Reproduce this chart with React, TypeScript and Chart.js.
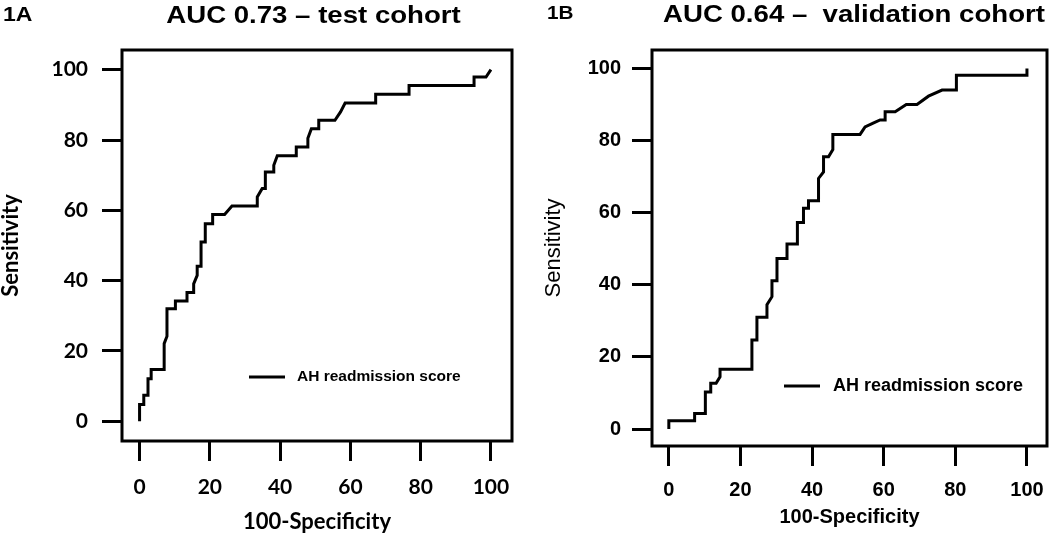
import React, { useEffect, useRef } from 'react';
import { Chart, registerables } from 'chart.js';

Chart.register(...registerables);

// ---------- data ----------
const xTickValues = [0, 20, 40, 60, 80, 100];
const yTickValues = [0, 20, 40, 60, 80, 100];

const panelLabelTest = '1A';
const panelLabelVal = '1B';
const titleTest = 'AUC 0.73 – test cohort';
const titleVal = 'AUC 0.64 –  validation cohort';
const legendLabel = 'AH readmission score';
const xAxisTitle = '100-Specificity';
const yAxisTitle = 'Sensitivity';

// test cohort ROC (100-specificity, sensitivity)
const fprTest = [0, 0, 1.2, 1.2, 2.4, 2.4, 3.3, 3.3, 7.0, 7.0, 7.8, 7.8, 10.2, 10.2, 13.5, 13.5, 15.4, 15.4, 16.4, 16.4, 17.5, 17.5, 18.7, 18.7, 20.8, 20.8, 24.2, 26.3, 33.5, 33.5, 34.9, 35.8, 35.8, 38.2, 38.2, 39.2, 44.6, 44.6, 47.9, 47.9, 48.9, 51.0, 51.0, 55.6, 57.2, 58.5, 67.2, 67.2, 76.7, 76.7, 95.2, 95.2, 98.6, 100];
const tprTest = [0, 4.8, 4.8, 7.4, 7.4, 12.1, 12.1, 14.7, 14.7, 22.1, 24.2, 32.0, 32.0, 34.2, 34.2, 36.6, 36.6, 39.1, 41.5, 44.1, 44.1, 51.0, 51.0, 56.2, 56.2, 58.8, 58.8, 61.2, 61.2, 63.8, 66.2, 66.2, 70.9, 70.9, 72.8, 75.5, 75.5, 78.0, 78.0, 80.5, 83.2, 83.2, 85.6, 85.6, 88.0, 90.5, 90.5, 93.0, 93.0, 95.5, 95.5, 97.9, 97.9, 100];

// validation cohort ROC
const fprVal = [0, 0, 7.2, 7.2, 10.2, 10.2, 11.7, 11.7, 13.2, 14.3, 14.3, 23.2, 23.2, 24.6, 24.6, 27.4, 27.4, 28.8, 28.8, 30.2, 30.2, 33.0, 33.0, 35.9, 35.9, 37.6, 37.6, 39.0, 39.0, 41.8, 41.8, 43.2, 43.2, 44.6, 45.8, 45.8, 53.4, 54.8, 57.2, 59.0, 60.4, 60.4, 63.2, 66.3, 69.3, 72.5, 76.3, 80.3, 80.3, 100, 100];
const tprVal = [0, 2.3, 2.3, 4.3, 4.3, 10.3, 10.3, 12.7, 12.7, 14.5, 16.6, 16.6, 24.7, 24.7, 31.0, 31.0, 34.5, 36.7, 41.1, 41.1, 47.3, 47.3, 51.3, 51.3, 57.3, 57.3, 61.2, 61.2, 63.3, 63.3, 69.5, 71.3, 75.5, 75.5, 77.5, 81.7, 81.7, 83.8, 84.9, 85.7, 85.7, 88.0, 88.0, 90.0, 90.0, 92.3, 94.0, 94.0, 98.1, 98.1, 100];

// ---------- panel styles ----------
type PanelStyle = {
  xMin: number; xMax: number; yMin: number; yMax: number;
  yAxisWidth: number; xAxisHeight: number; padRight: number;
  tickFamily: string; tickSize: number; xTickPad: number; yTickPad: number;
  titleFamily: string; xTitleSize: number; yTitleSize: number; yTitleWeight: string;
  xTitlePadBottom: number; yTitlePadTop: number;
  panelX: number; panelY: number; panelSize: number;
  titleX: number; titleY: number;
  legendX1: number; legendX2: number; legendY: number; legendTextX: number;
  legendSize: number; legendWeight: string;
};

const ARIAL = '"Liberation Sans", Arial, sans-serif';
const LATO = 'Lato, "Open Sans", sans-serif';

const styleTest: PanelStyle = {
  xMin: -5, xMax: 106, yMin: -5.6, yMax: 105.6,
  yAxisWidth: 122, xAxisHeight: 93, padRight: 13,
  tickFamily: LATO, tickSize: 21, xTickPad: 14, yTickPad: 14,
  titleFamily: LATO, xTitleSize: 22, yTitleSize: 22, yTitleWeight: 'bold',
  xTitlePadBottom: 1, yTitlePadTop: 0,
  panelX: 3, panelY: 20.5, panelSize: 20,
  titleX: 313.5, titleY: 22.7,
  legendX1: 249, legendX2: 285, legendY: 377, legendTextX: 297,
  legendSize: 15.5, legendWeight: 'bold',
};

const styleVal: PanelStyle = {
  xMin: -4.7, xMax: 105.6, yMin: -4.7, yMax: 105.1,
  yAxisWidth: 127, xAxisHeight: 88, padRight: 3,
  tickFamily: ARIAL, tickSize: 20, xTickPad: 12, yTickPad: 11,
  titleFamily: ARIAL, xTitleSize: 20, yTitleSize: 22, yTitleWeight: 'normal',
  xTitlePadBottom: 7, yTitlePadTop: 18,
  panelX: 22, panelY: 19.3, panelSize: 18,
  titleX: 329, titleY: 21.7,
  legendX1: 259, legendX2: 295, legendY: 386, legendTextX: 308,
  legendSize: 18, legendWeight: 'bold',
};

function makeChart(canvas: HTMLCanvasElement, fpr: number[], tpr: number[], panelLabel: string, title: string, s: PanelStyle) {
  const points = fpr.map((x, i) => ({ x, y: tpr[i] }));

  const decor = {
    id: 'decor',
    afterDraw(chart: any) {
      const ctx = chart.ctx as CanvasRenderingContext2D;
      const a = chart.chartArea;
      ctx.save();
      // frame
      ctx.strokeStyle = '#000';
      ctx.lineWidth = 3;
      ctx.strokeRect(a.left, a.top, a.right - a.left, a.bottom - a.top);
      // legend
      ctx.beginPath();
      ctx.moveTo(s.legendX1, s.legendY);
      ctx.lineTo(s.legendX2, s.legendY);
      ctx.stroke();
      ctx.fillStyle = '#000';
      ctx.font = `${s.legendWeight} ${s.legendSize}px ${ARIAL}`;
      ctx.textAlign = 'left';
      ctx.textBaseline = 'middle';
      ctx.fillText(legendLabel, s.legendTextX, s.legendY);
      // panel label and title (slightly stretched horizontally)
      ctx.textBaseline = 'alphabetic';
      ctx.font = `bold ${s.panelSize}px ${ARIAL}`;
      ctx.save();
      ctx.translate(s.panelX, s.panelY);
      ctx.scale(1.15, 1);
      ctx.textAlign = 'left';
      ctx.fillText(panelLabel, 0, 0);
      ctx.restore();
      ctx.font = `bold 24px ${ARIAL}`;
      ctx.save();
      ctx.translate(s.titleX, s.titleY);
      ctx.scale(1.15, 1);
      ctx.textAlign = 'center';
      ctx.fillText(title, 0, 0);
      ctx.restore();
      ctx.restore();
    },
  };

  return new Chart(canvas, {
    type: 'scatter',
    data: {
      datasets: [
        {
          label: legendLabel,
          data: points,
          showLine: true,
          borderColor: '#000',
          backgroundColor: '#000',
          borderWidth: 3,
          pointRadius: 0,
          tension: 0,
          borderJoinStyle: 'miter',
        } as any,
      ],
    },
    options: {
      responsive: false,
      animation: false,
      devicePixelRatio: 1,
      events: [],
      layout: { padding: { left: 0, right: s.padRight, top: 50, bottom: 0 } },
      plugins: {
        legend: { display: false },
        tooltip: { enabled: false },
        title: { display: false },
      },
      scales: {
        x: {
          type: 'linear',
          min: s.xMin,
          max: s.xMax,
          afterBuildTicks: (axis: any) => {
            axis.ticks = xTickValues.map((v) => ({ value: v }));
          },
          afterFit: (axis: any) => {
            axis.height = s.xAxisHeight;
            axis.paddingLeft = 0;
            axis.paddingRight = 0;
          },
          grid: { drawOnChartArea: false, drawTicks: true, tickLength: 20, color: '#000', lineWidth: 3 },
          border: { display: false },
          ticks: {
            color: '#000',
            padding: s.xTickPad,
            maxRotation: 0,
            autoSkip: false,
            font: { family: s.tickFamily, size: s.tickSize, weight: 'bold' },
          },
          title: {
            display: true,
            text: xAxisTitle,
            color: '#000',
            font: { family: s.titleFamily, size: s.xTitleSize, weight: 'bold', lineHeight: 1 },
            padding: { top: 0, bottom: s.xTitlePadBottom },
          },
        },
        y: {
          type: 'linear',
          min: s.yMin,
          max: s.yMax,
          afterBuildTicks: (axis: any) => {
            axis.ticks = yTickValues.map((v) => ({ value: v }));
          },
          afterFit: (axis: any) => {
            axis.width = s.yAxisWidth;
            axis.paddingTop = 0;
            axis.paddingBottom = 0;
          },
          grid: { drawOnChartArea: false, drawTicks: true, tickLength: 20, color: '#000', lineWidth: 3 },
          border: { display: false },
          ticks: {
            color: '#000',
            padding: s.yTickPad,
            autoSkip: false,
            font: { family: s.tickFamily, size: s.tickSize, weight: 'bold' },
          },
          title: {
            display: true,
            text: yAxisTitle,
            color: '#000',
            font: { family: s.titleFamily, size: s.yTitleSize, weight: s.yTitleWeight as any, lineHeight: 1 },
            padding: { top: s.yTitlePadTop, bottom: 0 },
          },
        },
      },
    },
    plugins: [decor],
  } as any);
}

export default function App() {
  const refA = useRef<HTMLCanvasElement | null>(null);
  const refB = useRef<HTMLCanvasElement | null>(null);

  useEffect(() => {
    const charts: Chart[] = [];
    if (refA.current) charts.push(makeChart(refA.current, fprTest, tprTest, panelLabelTest, titleTest, styleTest));
    if (refB.current) charts.push(makeChart(refB.current, fprVal, tprVal, panelLabelVal, titleVal, styleVal));
    return () => charts.forEach((c) => c.destroy());
  }, []);

  return (
    <div style={{ position: 'absolute', left: 0, top: 0, width: 1050, height: 534, background: '#fff' }}>
      <canvas ref={refA} width={525} height={534} style={{ position: 'absolute', left: 0, top: 0, width: 525, height: 534 }} />
      <canvas ref={refB} width={525} height={534} style={{ position: 'absolute', left: 525, top: 0, width: 525, height: 534 }} />
    </div>
  );
}
